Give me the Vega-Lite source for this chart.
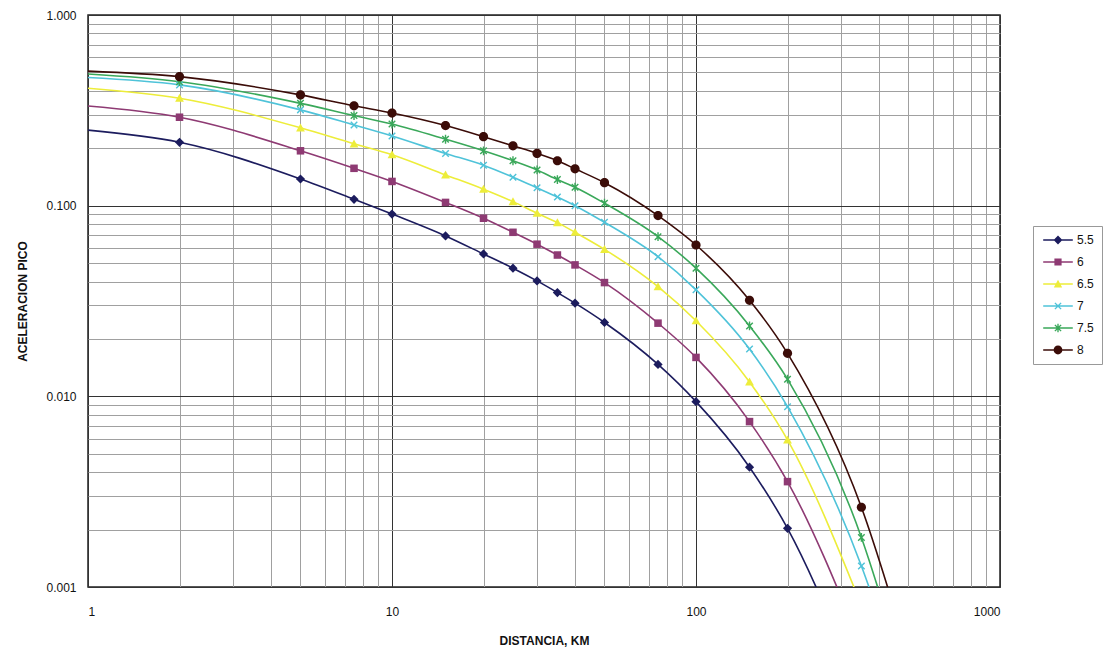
{
  "$schema": "https://vega.github.io/schema/vega-lite/v6.json",
  "width": 912,
  "height": 572,
  "autosize": "none",
  "padding": {"left": 88, "top": 15, "right": 112, "bottom": 65},
  "background": "white",
  "config": {
    "font": "Liberation Sans",
    "view": {"stroke": "#222", "strokeWidth": 1.5},
    "axis": {"labelFont": "Liberation Sans", "titleFont": "Liberation Sans", "labelColor": "#111", "titleColor": "#111", "domain": false, "ticks": false}
  },
  "data": {"values": [
    {"d":1,"m":"5.5","a":0.249},{"d":2,"m":"5.5","a":0.215},{"d":5,"m":"5.5","a":0.138},{"d":7.5,"m":"5.5","a":0.108},{"d":10,"m":"5.5","a":0.0904},{"d":15,"m":"5.5","a":0.0694},{"d":20,"m":"5.5","a":0.0558},{"d":25,"m":"5.5","a":0.047},{"d":30,"m":"5.5","a":0.0403},{"d":35,"m":"5.5","a":0.035},{"d":40,"m":"5.5","a":0.0308},{"d":50,"m":"5.5","a":0.0244},{"d":75,"m":"5.5","a":0.0147},{"d":100,"m":"5.5","a":0.00938},{"d":150,"m":"5.5","a":0.00425},{"d":200,"m":"5.5","a":0.00203},{"d":350,"m":"5.5","a":0.000268},
    {"d":1,"m":"6","a":0.333},{"d":2,"m":"6","a":0.291},{"d":5,"m":"6","a":0.194},{"d":7.5,"m":"6","a":0.157},{"d":10,"m":"6","a":0.134},{"d":15,"m":"6","a":0.104},{"d":20,"m":"6","a":0.0859},{"d":25,"m":"6","a":0.0725},{"d":30,"m":"6","a":0.0628},{"d":35,"m":"6","a":0.0551},{"d":40,"m":"6","a":0.0489},{"d":50,"m":"6","a":0.0395},{"d":75,"m":"6","a":0.0242},{"d":100,"m":"6","a":0.016},{"d":150,"m":"6","a":0.00737},{"d":200,"m":"6","a":0.00357},{"d":350,"m":"6","a":0.00049},
    {"d":1,"m":"6.5","a":0.413},{"d":2,"m":"6.5","a":0.366},{"d":5,"m":"6.5","a":0.256},{"d":7.5,"m":"6.5","a":0.211},{"d":10,"m":"6.5","a":0.185},{"d":15,"m":"6.5","a":0.145},{"d":20,"m":"6.5","a":0.122},{"d":25,"m":"6.5","a":0.105},{"d":30,"m":"6.5","a":0.0912},{"d":35,"m":"6.5","a":0.0815},{"d":40,"m":"6.5","a":0.0725},{"d":50,"m":"6.5","a":0.059},{"d":75,"m":"6.5","a":0.0376},{"d":100,"m":"6.5","a":0.0249},{"d":150,"m":"6.5","a":0.0119},{"d":200,"m":"6.5","a":0.00591},{"d":350,"m":"6.5","a":0.0008},
    {"d":1,"m":"7","a":0.47},{"d":2,"m":"7","a":0.43},{"d":5,"m":"7","a":0.318},{"d":7.5,"m":"7","a":0.265},{"d":10,"m":"7","a":0.232},{"d":15,"m":"7","a":0.188},{"d":20,"m":"7","a":0.163},{"d":25,"m":"7","a":0.141},{"d":30,"m":"7","a":0.124},{"d":35,"m":"7","a":0.111},{"d":40,"m":"7","a":0.1},{"d":50,"m":"7","a":0.0818},{"d":75,"m":"7","a":0.054},{"d":100,"m":"7","a":0.0362},{"d":150,"m":"7","a":0.0177},{"d":200,"m":"7","a":0.00883},{"d":350,"m":"7","a":0.00129},{"d":500,"m":"7","a":0.000233},
    {"d":1,"m":"7.5","a":0.49},{"d":2,"m":"7.5","a":0.447},{"d":5,"m":"7.5","a":0.344},{"d":7.5,"m":"7.5","a":0.297},{"d":10,"m":"7.5","a":0.268},{"d":15,"m":"7.5","a":0.223},{"d":20,"m":"7.5","a":0.194},{"d":25,"m":"7.5","a":0.172},{"d":30,"m":"7.5","a":0.154},{"d":35,"m":"7.5","a":0.137},{"d":40,"m":"7.5","a":0.125},{"d":50,"m":"7.5","a":0.103},{"d":75,"m":"7.5","a":0.0688},{"d":100,"m":"7.5","a":0.047},{"d":150,"m":"7.5","a":0.0234},{"d":200,"m":"7.5","a":0.0123},{"d":350,"m":"7.5","a":0.00182},{"d":500,"m":"7.5","a":0.000285},
    {"d":1,"m":"8","a":0.508},{"d":2,"m":"8","a":0.475},{"d":5,"m":"8","a":0.381},{"d":7.5,"m":"8","a":0.334},{"d":10,"m":"8","a":0.306},{"d":15,"m":"8","a":0.263},{"d":20,"m":"8","a":0.23},{"d":25,"m":"8","a":0.206},{"d":30,"m":"8","a":0.188},{"d":35,"m":"8","a":0.172},{"d":40,"m":"8","a":0.156},{"d":50,"m":"8","a":0.132},{"d":75,"m":"8","a":0.0887},{"d":100,"m":"8","a":0.0622},{"d":150,"m":"8","a":0.0319},{"d":200,"m":"8","a":0.0168},{"d":350,"m":"8","a":0.00262},{"d":500,"m":"8","a":0.000434}
  ]},
  "encoding": {
    "x": {"field": "d", "type": "quantitative", "title": "DISTANCIA, KM",
      "scale": {"type": "log", "domain": [1, 1000], "nice": false},
      "axis": {
        "values": [1,2,3,4,5,6,7,8,9,10,20,30,40,50,60,70,80,90,100,200,300,400,500,600,700,800,900,1000],
        "labelExpr": "(datum.value==1||datum.value==10||datum.value==100||datum.value==1000) ? format(datum.value,'d') : ''",
        "labelOverlap": false, "labelFontSize": 12, "labelPadding": 19,
        "titleFontSize": 12, "titleFontWeight": "bold", "titlePadding": 18,
        "gridColor": {"condition": {"test": "datum.value==1||datum.value==10||datum.value==100||datum.value==1000", "value": "#333"}, "value": "#a0a0a0"},
        "gridWidth": 1
      }},
    "y": {"field": "a", "type": "quantitative", "title": "ACELERACION PICO",
      "scale": {"type": "log", "domain": [0.001, 1], "nice": false},
      "axis": {
        "values": [0.001,0.002,0.003,0.004,0.005,0.006,0.007,0.008,0.009,0.01,0.02,0.03,0.04,0.05,0.06,0.07,0.08,0.09,0.1,0.2,0.3,0.4,0.5,0.6,0.7,0.8,0.9,1],
        "labelExpr": "(datum.value==0.001||datum.value==0.01||datum.value==0.1||datum.value==1) ? format(datum.value,'.3f') : ''",
        "labelOverlap": false, "labelFontSize": 12, "labelPadding": 12,
        "titleFontSize": 12, "titleFontWeight": "bold", "titlePadding": 16,
        "gridColor": {"condition": {"test": "datum.value==0.001||datum.value==0.01||datum.value==0.1||datum.value==1", "value": "#333"}, "value": "#a0a0a0"},
        "gridWidth": 1
      }}
  },
  "layer": [
    {
      "mark": {"type": "line", "interpolate": "monotone", "strokeWidth": 1.6, "clip": true},
      "encoding": {
        "color": {"field": "m", "type": "nominal", "title": null,
          "scale": {"domain": ["5.5","6","6.5","7","7.5","8"], "range": ["#1c1c5e","#8e3a73","#eded3a","#4fc3d9","#3aa85a","#3b0c08"]}}
      }
    },
    {
      "transform": [{"filter": "datum.a < 0.001"}],
      "mark": {"type": "point", "filled": true, "size": 64, "opacity": 1, "clip": true},
      "encoding": {
        "color": {"field": "m", "type": "nominal", "title": null,
          "scale": {"domain": ["5.5","6","6.5","7","7.5","8"], "range": ["#1c1c5e","#8e3a73","#eded3a","#4fc3d9","#3aa85a","#3b0c08"]},
          "legend": {
            "orient": "none", "legendX": 945, "legendY": 211,
            "strokeColor": "#999", "padding": 8, "rowPadding": 10,
            "labelFontSize": 12, "labelFont": "Liberation Sans", "labelColor": "#111", "labelOffset": 13,
            "symbolSize": 64, "symbolOffset": 11, "symbolStrokeWidth": 0
          }},
        "shape": {"field": "m", "type": "nominal", "title": null,
          "scale": {"domain": ["5.5","6","6.5","7","7.5","8"], "range": [
            "M-3.7,-0.2L3.7,-0.2L3.7,0.2L-3.7,0.2ZM0,-1.1L1.1,0L0,1.1L-1.1,0Z",
            "M-3.7,-0.2L3.7,-0.2L3.7,0.2L-3.7,0.2ZM-0.9,-0.9L0.9,-0.9L0.9,0.9L-0.9,0.9Z",
            "M-3.7,-0.2L3.7,-0.2L3.7,0.2L-3.7,0.2ZM0,-1.05L1.05,0.85L-1.05,0.85Z",
            "M-3.7,-0.2L3.7,-0.2L3.7,0.2L-3.7,0.2ZM0.898,-0.658L0.24,0L0.898,0.658L0.658,0.898L0,0.24L-0.658,0.898L-0.898,0.658L-0.24,0L-0.898,-0.658L-0.658,-0.898L0,-0.24L0.658,-0.898Z",
            "M-3.7,-0.2L3.7,-0.2L3.7,0.2L-3.7,0.2ZM0.898,-0.658L0.24,0L0.898,0.658L0.658,0.898L0,0.24L-0.658,0.898L-0.898,0.658L-0.24,0L-0.898,-0.658L-0.658,-0.898L0,-0.24L0.658,-0.898ZM-0.17,-1.05L0.17,-1.05L0.17,1.05L-0.17,1.05Z",
            "M-3.7,-0.2L3.7,-0.2L3.7,0.2L-3.7,0.2ZM1.1,0A1.1,1.1,0,1,1,-1.1,0A1.1,1.1,0,1,1,1.1,0Z"]}}
      }
    },
    {
      "transform": [{"filter": "datum.m == '5.5' && datum.d > 1"}],
      "mark": {"type": "point", "filled": true, "opacity": 1, "size": 70, "color": "#1c1c5e", "clip": true, "shape": "M0,-1.1L1.1,0L0,1.1L-1.1,0Z"}
    },
    {
      "transform": [{"filter": "datum.m == '6' && datum.d > 1"}],
      "mark": {"type": "point", "filled": true, "opacity": 1, "size": 70, "color": "#8e3a73", "clip": true, "shape": "M-0.9,-0.9L0.9,-0.9L0.9,0.9L-0.9,0.9Z"}
    },
    {
      "transform": [{"filter": "datum.m == '6.5' && datum.d > 1"}],
      "mark": {"type": "point", "filled": true, "opacity": 1, "size": 70, "color": "#eded3a", "clip": true, "shape": "M0,-1.05L1.05,0.85L-1.05,0.85Z"}
    },
    {
      "transform": [{"filter": "datum.m == '7' && datum.d > 1"}],
      "mark": {"type": "point", "filled": true, "opacity": 1, "size": 70, "color": "#4fc3d9", "clip": true, "shape": "M0.898,-0.658L0.24,0L0.898,0.658L0.658,0.898L0,0.24L-0.658,0.898L-0.898,0.658L-0.24,0L-0.898,-0.658L-0.658,-0.898L0,-0.24L0.658,-0.898Z"}
    },
    {
      "transform": [{"filter": "datum.m == '7.5' && datum.d > 1"}],
      "mark": {"type": "point", "filled": true, "opacity": 1, "size": 70, "color": "#3aa85a", "clip": true, "shape": "M0.898,-0.658L0.24,0L0.898,0.658L0.658,0.898L0,0.24L-0.658,0.898L-0.898,0.658L-0.24,0L-0.898,-0.658L-0.658,-0.898L0,-0.24L0.658,-0.898ZM-0.17,-1.05L0.17,-1.05L0.17,1.05L-0.17,1.05Z"}
    },
    {
      "transform": [{"filter": "datum.m == '8' && datum.d > 1"}],
      "mark": {"type": "point", "filled": true, "opacity": 1, "size": 70, "color": "#3b0c08", "clip": true, "shape": "M1.1,0A1.1,1.1,0,1,1,-1.1,0A1.1,1.1,0,1,1,1.1,0Z"}
    }
  ]
}
